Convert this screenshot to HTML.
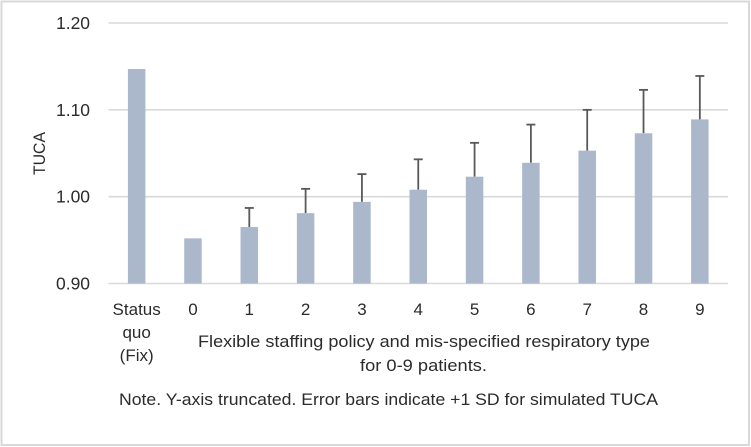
<!DOCTYPE html>
<html>
<head>
<meta charset="utf-8">
<title>TUCA chart</title>
<style>
html,body{margin:0;padding:0;background:#fff;width:751px;height:447px;overflow:hidden}
svg{display:block;filter:blur(0.35px)}
text{font-family:"Liberation Sans",sans-serif;fill:#2b2b2b}
</style>
</head>
<body>
<svg id="chart" width="751" height="447" viewBox="0 0 751 447" xmlns="http://www.w3.org/2000/svg">
<rect x="1.5" y="1.5" width="747.5" height="443.5" fill="#fff" stroke="#d9d9d9" stroke-width="2"/>
<text transform="translate(45,175) rotate(-90)" font-size="17" textLength="43" lengthAdjust="spacingAndGlyphs">TUCA</text>
<text x="198" y="347" font-size="17" textLength="452" lengthAdjust="spacingAndGlyphs">Flexible staffing policy and mis-specified respiratory type</text>
<text x="360" y="371" font-size="17" textLength="127" lengthAdjust="spacingAndGlyphs">for 0-9 patients.</text>
<text x="119" y="405" font-size="17" textLength="539" lengthAdjust="spacingAndGlyphs">Note. Y-axis truncated. Error bars indicate +1 SD for simulated TUCA</text>
</svg>
<script>
const categories = [["Status","quo","(Fix)"],["0"],["1"],["2"],["3"],["4"],["5"],["6"],["7"],["8"],["9"]];
const tucaValues = [1.147,0.952,0.965,0.981,0.994,1.008,1.023,1.039,1.053,1.073,1.089];
const errorTops = [null,null,0.987,1.009,1.026,1.043,1.062,1.083,1.100,1.123,1.139];
const yTicks = [0.90,1.00,1.10,1.20];

const svg = document.getElementById('chart');
const NS = 'http://www.w3.org/2000/svg';
const plotLeft = 108.5, plotRight = 728, plotTop = 23, plotBottom = 283.5;
const yMin = 0.90, yMax = 1.20;
function yScale(v){ return plotBottom - (v - yMin) / (yMax - yMin) * (plotBottom - plotTop); }
function xScale(i){ return plotLeft + (i + 0.5) * (plotRight - plotLeft) / categories.length; }
function make(tag, attrs, text){
  const el = document.createElementNS(NS, tag);
  for (const k in attrs) el.setAttribute(k, attrs[k]);
  if (text !== undefined) el.textContent = text;
  svg.appendChild(el);
  return el;
}
yTicks.forEach(function(t){
  const y = yScale(t);
  const grid = make('line', {x1: plotLeft, x2: plotRight, y1: y, y2: y, stroke: '#d9d9d9', 'stroke-width': 1.6});
  
  
  const label = make('text', {x: 90, y: y + 6, 'text-anchor': 'end', 'font-size': 17.5, textLength: 34, lengthAdjust: 'spacingAndGlyphs'}, t.toFixed(2));
  
  
});
const barWidth = 17.5;
categories.forEach(function(cat, i){
  const x = xScale(i);
  const top = yScale(tucaValues[i]);
  if (errorTops[i] !== null) {
    const e = yScale(errorTops[i]);
    const stem = make('line', {x1: x, x2: x, y1: e, y2: top, stroke: '#595959', 'stroke-width': 1.8});
    
    
    const cap = make('line', {x1: x - 4.5, x2: x + 4.5, y1: e, y2: e, stroke: '#595959', 'stroke-width': 1.8});
    
    
  }
  const bar = make('rect', {x: x - barWidth / 2, y: top, width: barWidth, height: plotBottom - top, fill: '#abb8cc'});
  
  
  cat.forEach(function(line, j){
    const tick = make('text', {x: x, y: 315 + j * 23, 'text-anchor': 'middle', 'font-size': 17}, line);
    
    
  });
});
</script>
</body>
</html>
